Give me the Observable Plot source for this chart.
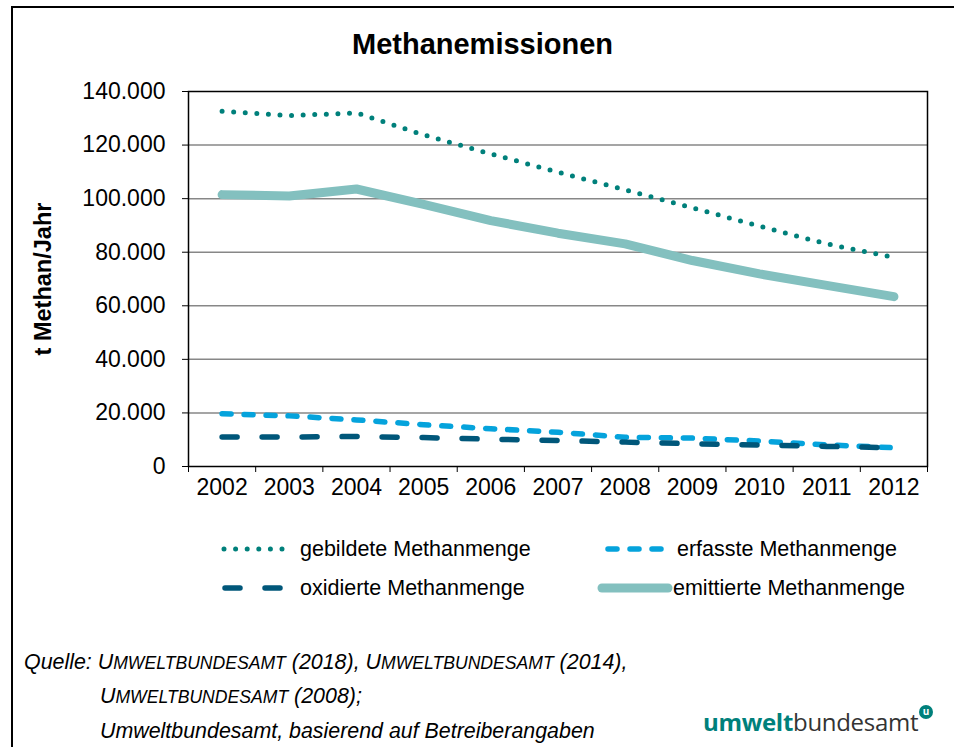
<!DOCTYPE html>
<html>
<head>
<meta charset="utf-8">
<script src="https://cdn.jsdelivr.net/npm/d3@7"></script>
<script src="https://cdn.jsdelivr.net/npm/@observablehq/plot@0.6"></script>
<style>
  html, body { margin: 0; padding: 0; background: #fff; }
  body { width: 954px; height: 747px; position: relative; overflow: hidden; font-family: "Liberation Sans", Arial, sans-serif; color: #000; }
  .frame { position: absolute; left: 11px; top: 6px; width: 1000px; height: 800px; border-top: 2px solid #000; border-left: 2px solid #000; }
  #chart { position: absolute; left: 0; top: 0; }
  .title { position: absolute; left: 11px; width: 943px; top: 27px; text-align: center; font-weight: bold; font-size: 29px; line-height: 34px; }
  .ylabel { position: absolute; left: 43px; top: 279px; transform: translate(-50%, -50%) rotate(-90deg); font-weight: bold; font-size: 23.5px; white-space: nowrap; }
  .sw { position: absolute; display: block; }
  .lt { position: absolute; font-size: 21.5px; white-space: nowrap; line-height: 26px; }
  .cap { position: absolute; font-style: italic; font-size: 21.4px; white-space: nowrap; line-height: 26px; }
  .sc { font-size: 17.6px; }
  .logo { position: absolute; left: 703px; top: 705px; font-family: "Open Sans", "Noto Sans", sans-serif; font-size: 24px; white-space: nowrap; color: #333; letter-spacing: -0.3px; }
  .logo b { color: #00807b; font-weight: 700; }
  .logo .u { display: inline-block; width: 14px; height: 14px; border-radius: 50%; background: #00807b; color: #fff; font-size: 10px; font-weight: 700; line-height: 13px; text-align: center; vertical-align: top; margin-left: 1px; margin-top: 0px; letter-spacing: 0; }
</style>
</head>
<body>
<div class="frame"></div>
<div id="chart"></div>
<div class="title">Methanemissionen</div>
<div class="ylabel">t Methan/Jahr</div>
<div id="legend"></div>
<div class="cap" style="left:24px; top:649px;">Quelle: <span>U</span><span class="sc">MWELTBUNDESAMT</span> (2018), <span>U</span><span class="sc">MWELTBUNDESAMT</span> (2014),</div>
<div class="cap" style="left:100px; top:683px;"><span>U</span><span class="sc">MWELTBUNDESAMT</span> (2008);</div>
<div class="cap" style="left:100px; top:718px;">Umweltbundesamt, basierend auf Betreiberangaben</div>
<div class="logo"><b>umwelt</b>bundesamt<span class="u">u</span></div>
<script>
// ---- data ----
const years = [2002, 2003, 2004, 2005, 2006, 2007, 2008, 2009, 2010, 2011, 2012];
const gebildet  = [132600, 131000, 132000, 123800, 116700, 109900, 103300, 96600, 89700, 83100, 78100];
const erfasst   = [19700, 18900, 17400, 15600, 14100, 12800, 10900, 10600, 9500, 8100, 7000];
const oxidiert  = [11000, 11000, 11200, 10800, 10200, 9700, 9100, 8500, 8000, 7500, 7000];
const emittiert = [101500, 101000, 103600, 97900, 91800, 87100, 83100, 76900, 71900, 67600, 63400];
const yTicks = [0, 20000, 40000, 60000, 80000, 100000, 120000, 140000];
const seriesNames = ["gebildete Methanmenge", "erfasste Methanmenge", "oxidierte Methanmenge", "emittierte Methanmenge"];

// ---- styles ----
const styles = {
  "gebildete Methanmenge":  {stroke: "#00807b", strokeWidth: 5,   strokeDasharray: "0 11.6"},
  "erfasste Methanmenge":   {stroke: "#05a3dc", strokeWidth: 5.5, strokeDasharray: "9 13"},
  "oxidierte Methanmenge":  {stroke: "#00577a", strokeWidth: 5.5, strokeDasharray: "15 25"},
  "emittierte Methanmenge": {stroke: "#83c0bf", strokeWidth: 9,   strokeDasharray: null}
};
const valuesBy = {
  "gebildete Methanmenge": gebildet,
  "erfasste Methanmenge": erfasst,
  "oxidierte Methanmenge": oxidiert,
  "emittierte Methanmenge": emittiert
};

const de = d3.formatLocale({decimal: ",", thousands: ".", grouping: [3], currency: ["", " €"]});
const fmt = de.format(",");

const boundaries = [...years.map(y => y - 0.5), years[years.length - 1] + 0.5];

const lineMarks = seriesNames.map(name => {
  const rows = years.map((year, i) => ({year, value: valuesBy[name][i]}));
  const s = styles[name];
  return Plot.line(rows, {
    x: "year", y: "value",
    stroke: s.stroke, strokeWidth: s.strokeWidth,
    strokeDasharray: s.strokeDasharray || undefined,
    strokeLinecap: "round", strokeLinejoin: "round"
  });
});

const chart = Plot.plot({
  width: 954, height: 520,
  marginLeft: 188, marginRight: 27, marginTop: 91, marginBottom: 54,
  style: {background: "none", fontFamily: "'Liberation Sans', Arial, sans-serif", fontSize: "23px", color: "#000", overflow: "visible"},
  x: {type: "linear", domain: [years[0] - 0.5, years[years.length - 1] + 0.5], ticks: boundaries, tickFormat: () => "", tickSize: 6, label: null},
  y: {domain: [0, 140000], ticks: yTicks, tickFormat: d => fmt(d), tickSize: 6, tickPadding: 17, label: null},
  marks: [
    Plot.ruleY(yTicks.slice(1, -1), {stroke: "#878787", strokeWidth: 1.5}),
    Plot.frame({stroke: "#000", strokeWidth: 1.5}),
    Plot.text(years, {x: d => d, text: d => String(d), frameAnchor: "bottom", dy: 28, fontSize: 23, fill: "#000"}),
    ...lineMarks
  ]
});
document.getElementById("chart").appendChild(chart);

// ---- legend ----
const legendLayout = [
  {name: "gebildete Methanmenge",  x1: 224, x2: 289, text: 300, y: 549},
  {name: "erfasste Methanmenge",   x1: 608, x2: 668, text: 677, y: 549},
  {name: "oxidierte Methanmenge",  x1: 225, x2: 290, text: 300, y: 588},
  {name: "emittierte Methanmenge", x1: 602, x2: 668, text: 673, y: 588}
];
const legend = document.getElementById("legend");
for (const item of legendLayout) {
  const s = styles[item.name];
  const w = item.x2 - item.x1 + 12;
  const sw = document.createElement("div");
  sw.className = "sw";
  sw.style.left = (item.x1 - 6) + "px";
  sw.style.top = (item.y - 8) + "px";
  const dash = s.strokeDasharray ? `stroke-dasharray="${s.strokeDasharray}"` : "";
  sw.innerHTML = `<svg width="${w}" height="16" style="display:block"><line x1="6" x2="${w - 6}" y1="8" y2="8" stroke="${s.stroke}" stroke-width="${s.strokeWidth}" stroke-linecap="round" ${dash}/></svg>`;
  legend.appendChild(sw);
  const t = document.createElement("div");
  t.className = "lt";
  t.style.left = item.text + "px";
  t.style.top = (item.y - 13) + "px";
  t.textContent = item.name;
  legend.appendChild(t);
}
</script>
</body>
</html>
